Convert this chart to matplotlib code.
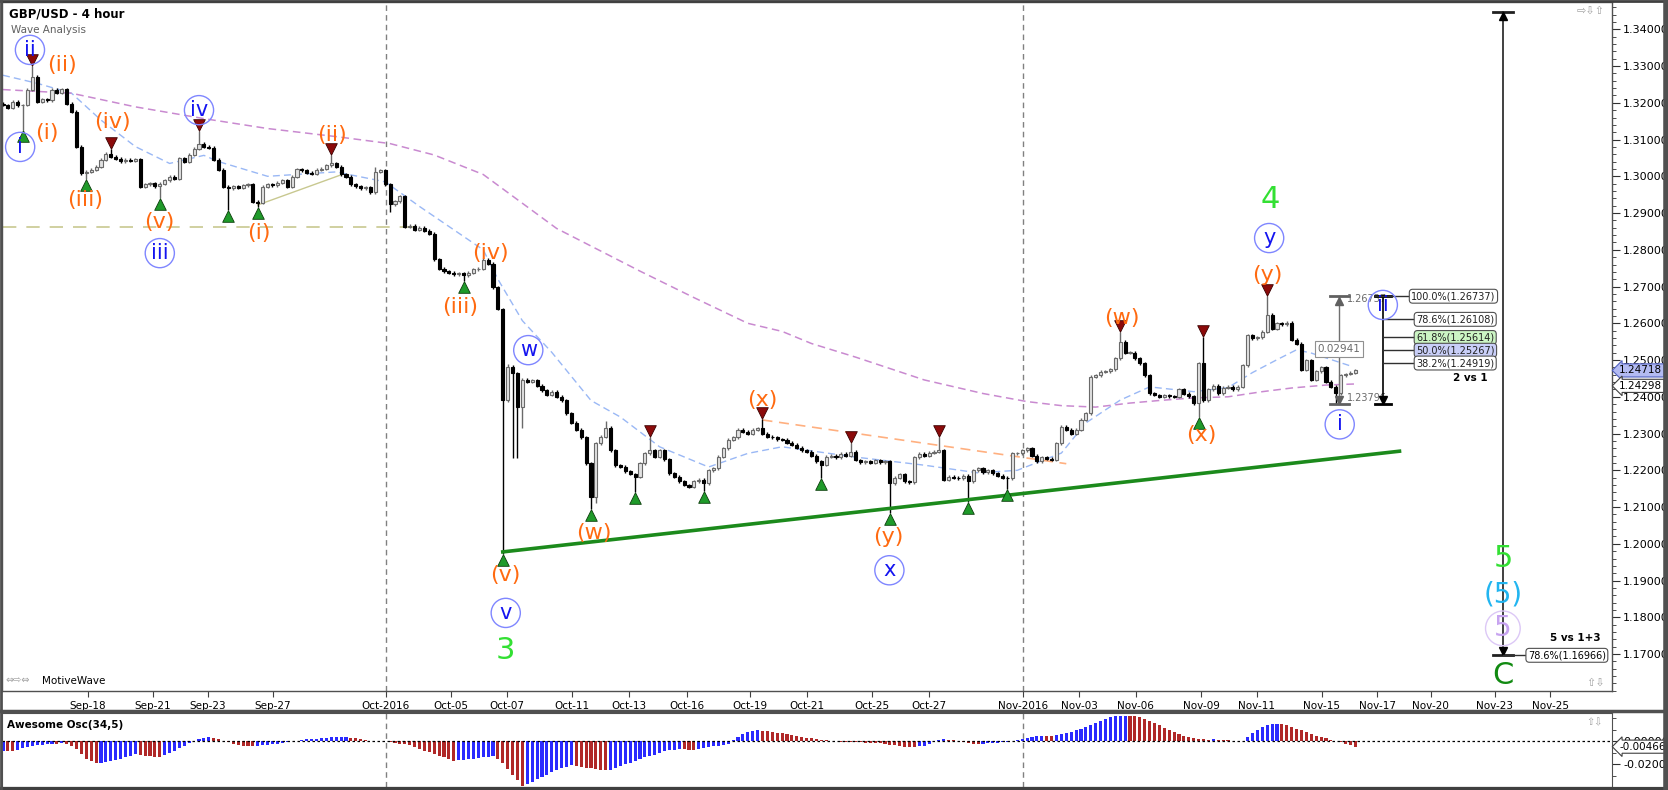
import matplotlib
matplotlib.use("Agg")
import matplotlib.pyplot as plt
from matplotlib.transforms import blended_transform_factory, offset_copy
from matplotlib.ticker import MultipleLocator, FixedLocator
from matplotlib.lines import Line2D

# ---- price data: 4h candles, values in pips above 1.0000 ----
closes = [
    3194, 3187, 3203, 3193, 3194, 3235, 3271, 3203, 3209, 3207,
    3235, 3228, 3237, 3198, 3176, 3081, 3008, 3013, 3018, 3026,
    3045, 3062, 3053, 3048, 3041, 3045, 3042, 3046, 2972, 2978,
    2981, 2973, 2980, 2989, 2999, 2994, 3049, 3040, 3059, 3075,
    3089, 3080, 3078, 3045, 3018, 2972, 2967, 2973, 2969, 2975,
    2978, 2931, 2928, 2972, 2978, 2975, 2983, 2989, 2971, 2999,
    3019, 3016, 3010, 3007, 3018, 3021, 3030, 3035, 3026, 3005,
    2999, 2978, 2973, 2967, 2970, 2957, 3012, 3016, 2978, 2924,
    2932, 2946, 2863, 2865, 2855, 2860, 2852, 2844, 2774, 2749,
    2742, 2738, 2734, 2736, 2731, 2738, 2747, 2749, 2773, 2762,
    2698, 2639, 2391, 2482, 2464, 2373, 2446, 2441, 2445, 2430,
    2418, 2405, 2414, 2400, 2391, 2355, 2330, 2310, 2290, 2219,
    2128, 2273, 2292, 2316, 2255, 2214, 2210, 2198, 2190, 2182,
    2219, 2246, 2255, 2237, 2255, 2230, 2192, 2183, 2170, 2160,
    2155, 2170, 2175, 2165, 2200, 2205, 2237, 2260, 2283, 2290,
    2310, 2305, 2300, 2310, 2315, 2300, 2292, 2290, 2285, 2283,
    2275, 2270, 2262, 2255, 2250, 2240, 2225, 2215, 2237, 2240,
    2235, 2245, 2240, 2250, 2228, 2222, 2225, 2220, 2228, 2222,
    2225, 2165, 2180, 2190, 2170, 2168, 2235, 2245, 2240, 2248,
    2250, 2255, 2174, 2183, 2180, 2178, 2185, 2170, 2200, 2205,
    2195, 2200, 2192, 2185, 2180, 2178, 2246, 2246, 2255, 2260,
    2240, 2225, 2235, 2232, 2228, 2273, 2319, 2310, 2300, 2310,
    2337, 2355, 2455, 2459, 2468, 2470, 2475, 2505, 2550, 2520,
    2520, 2505, 2491, 2459, 2410, 2405, 2400, 2405, 2402, 2400,
    2420, 2408, 2402, 2382, 2491, 2391, 2420, 2430, 2410, 2425,
    2428, 2420, 2428, 2486, 2568, 2559, 2562, 2577, 2623, 2585,
    2600, 2598, 2602, 2555, 2545, 2473, 2500, 2446, 2470, 2480,
    2441, 2428, 2410, 2459, 2462, 2466, 2472,
]
first_open = 3198
marked_highs = {6: 3299, 22: 3074, 40: 3123, 67: 3059, 76: 3026, 103: 2490,
                123: 2333, 132: 2290, 155: 2340, 173: 2275, 191: 2290,
                228: 2577, 245: 2564, 258: 2674}
marked_lows = {4: 3126, 17: 2992, 32: 2941, 46: 2908, 52: 2917, 79: 2903,
               94: 2715, 102: 1973, 104: 2233, 105: 2233, 106: 2314, 120: 2095,
               121: 2110, 129: 2140, 143: 2145, 167: 2180, 181: 2085, 197: 2115,
               205: 2150, 244: 2345, 272: 2380}
pivot_lows = [4, 17, 32, 46, 52, 94, 102, 120, 129, 143, 167, 181, 197, 205, 244]
pivot_highs = [6, 22, 40, 67, 132, 155, 173, 191, 228, 245, 258]

# Awesome oscillator (34,5), in pips
ao = [
    -80, -84, -86, -72, -62, -52, -42, -35, -30, -25, -20, -22, -18, -24,
    -40, -70, -110, -150, -175, -190, -185, -178, -170, -160, -150, -140, -125, -112,
    -118, -124, -130, -133, -135, -120, -100, -80, -60, -40, -15, 5, 20, 30, 36,
    30, 18, 5, -8, -20, -32, -40, -43, -45, -40, -35, -30, -26, -22, -15,
    -8, 0, 6, 12, 16, 20, 24, 28, 31, 34, 36, 38, 39, 32, 25, 16, 8, 2,
    0, 3, 1, -8, -15, -20, -25, -35, -50, -65, -80, -95, -110, -125, -140, -155, -170,
    -165, -160, -155, -150, -145, -140, -135, -130, -150, -190, -240, -290, -340, -385,
    -370, -350, -330, -310, -290, -270, -250, -235, -220, -210,
    -215, -222, -230, -236, -242, -248, -252,
    -245, -230, -215, -200, -185, -170, -155, -140, -125, -115,
    -100, -88, -78, -72, -68, -70, -72, -74, -68, -60, -52, -45, -38, -30, -20,
    10, 40, 65, 80, 90, 96, 92, 88, 82, 76, 70, 62, 55, 48, 40, 33, 26, 20, 14, 8, 3,
    0, -2, -4, -6, -8, -10, -12, -14, -16, -18, -22, -28, -34, -40, -46, -50, -52,
    -45, -38, -20, 5, 15, 20, 15, 8, 0, -8, -15, -20, -22, -20, -18, -15, -12, -10,
    -6, 5, 15, 22, 30, 36, 42, 48, 46, 45,
    52, 60, 70, 82, 95, 110, 125, 142, 160, 180, 198, 210, 218, 222, 224, 220, 218,
    210, 195, 178, 160, 140, 120, 100, 82, 66, 50, 38, 28, 22, 18, 15, 17, 14, 12,
    8, 5, 3, 4, 40, 70, 100, 125, 140, 148, 152, 150,
    140, 125, 110, 95, 80, 65, 50, 38, 25, 12, 0, -10, -22, -34, -46,
]
ao_last = -0.00466

# moving averages (bar, pips)
blue_ma_bars = [0, 7, 14, 20, 27, 34, 41, 44, 54, 68, 78, 85, 98, 101, 106, 112, 120,
                126, 134, 144, 152, 159, 174, 188, 199, 207, 216, 221, 228, 234, 243,
                250, 255, 260, 264, 267, 275]
blue_ma = [3275, 3253, 3226, 3153, 3081, 3035, 3057, 3040, 3000, 3012, 2985, 2918,
           2800, 2720, 2607, 2521, 2390, 2345, 2264, 2209, 2246, 2264, 2236, 2214,
           2193, 2200, 2247, 2329, 2391, 2427, 2414, 2425, 2466, 2501, 2528, 2519, 2484]
pink_ma_bars = [0, 14, 27, 41, 54, 68, 79, 88, 98, 113, 130, 141, 152, 159, 165, 174,
                188, 200, 209, 216, 223, 230, 236, 243, 250, 257, 263, 270, 276]
pink_ma = [3236, 3226, 3189, 3157, 3130, 3108, 3089, 3058, 3005, 2858, 2742, 2670,
           2600, 2578, 2545, 2508, 2446, 2409, 2387, 2376, 2372, 2383, 2390, 2397,
           2400, 2414, 2424, 2432, 2435]

trend_bars, trend_vals = [102, 285], [1978, 2252]
orange_line_bars, orange_line_vals = [155, 217], [2337, 2218]
olive_line_bars, olive_line_vals = [52, 69], [2922, 3004]
olive_level, olive_bars = 2862, [0, 84]

date_ticks = [17.3, 30.6, 41.8, 55.1, 78.1, 91.4, 102.8, 116.1, 127.7, 139.6, 152.4,
              164.1, 177.4, 188.9, 208.1, 219.6, 231.2, 244.5, 255.9, 269.1, 280.5,
              291.4, 304.4, 315.8]
date_labels = ["Sep-18", "Sep-21", "Sep-23", "Sep-27", "Oct-2016", "Oct-05", "Oct-07",
               "Oct-11", "Oct-13", "Oct-16", "Oct-19", "Oct-21", "Oct-25", "Oct-27",
               "Nov-2016", "Nov-03", "Nov-06", "Nov-09", "Nov-11", "Nov-15", "Nov-17",
               "Nov-20", "Nov-23", "Nov-25"]
month_lines = [78.1, 208.1]

orange_labels = [("(ii)", 12, 3303), ("(i)", 9, 3117), ("(iii)", 16.7, 2935),
                 ("(iv)", 22.3, 3148), ("(v)", 32, 2876), ("(i)", 52.2, 2846),
                 ("(ii)", 67.2, 3112), ("(iii)", 93.3, 2645), ("(iv)", 99.5, 2791),
                 ("(v)", 102.6, 1915), ("(w)", 120.6, 2030), ("(x)", 154.9, 2391),
                 ("(y)", 180.7, 2019), ("(w)", 228.4, 2614), ("(x)", 244.6, 2296),
                 ("(y)", 258.0, 2731)]
blue_labels = [("ii", 5.5, 3344), ("i", 3.5, 3080), ("iii", 32, 2791), ("iv", 40, 3180),
               ("w", 107.2, 2527), ("v", 102.6, 1812), ("x", 180.9, 1928),
               ("y", 258.4, 2832), ("i", 272.8, 2325)]
green_labels = [("3", 102.6, 1711), ("4", 258.6, 2936), ("5", 306.1, 1961)]

fib_levels = [1.26737, 1.26108, 1.25614, 1.25267, 1.24919]
fib_texts = ["100.0%(1.26737)", "78.6%(1.26108)", "61.8%(1.25614)",
             "50.0%(1.25267)", "38.2%(1.24919)"]
fib_fills = ["white", "white", "#ccf5c4", "#c9cff8", "white"]
wave_top, wave_bottom = 1.26737, 1.23796
ext_top, ext_bottom = 1.3448, 1.16966

last_price, other_price = 1.24718, 1.24298


def p(v):
    return 1 + v / 10000.0


W, H = 1668, 790


def rect(x0, y0, x1, y1):
    return [x0 / W, 1 - y1 / H, (x1 - x0) / W, (y1 - y0) / H]


fig = plt.figure(figsize=(W / 100, H / 100), dpi=100)
ax = fig.add_axes(rect(2, 2, 1612, 691))
ax2 = fig.add_axes(rect(2, 713, 1612, 787), sharex=ax)
xlim = (-0.204, 328.37)

# ---- candles ----
c = [p(v) for v in closes]
o = [p(first_open)] + c[:-1]
hi = [max(a, b) + 0.0004 for a, b in zip(o, c)]
lo = [min(a, b) - 0.0004 for a, b in zip(o, c)]
for k, v in marked_highs.items():
    hi[k] = p(v)
for k, v in marked_lows.items():
    lo[k] = p(v)
x = list(range(len(c)))
up = [i for i in x if c[i] >= o[i]]
dn = [i for i in x if c[i] < o[i]]

ax.vlines(up, [lo[i] for i in up], [hi[i] for i in up], color="#6a6a6a", lw=1, zorder=3)
ax.vlines(dn, [lo[i] for i in dn], [hi[i] for i in dn], color="black", lw=1, zorder=3)
ax.bar(up, [max(c[i] - o[i], 0.00012) for i in up], bottom=[o[i] for i in up],
       width=0.62, color="#e2e2e2", edgecolor="#6a6a6a", lw=0.8, zorder=4)
ax.bar(dn, [max(o[i] - c[i], 0.00012) for i in dn], bottom=[c[i] for i in dn],
       width=0.62, color="black", edgecolor="black", lw=0.8, zorder=4)

# ---- lines ----
ax.plot(blue_ma_bars, [p(v) for v in blue_ma], color="#9ab8f5", lw=1, ls=(0, (5, 3)), zorder=2)
ax.plot(pink_ma_bars, [p(v) for v in pink_ma], color="#c98ad0", lw=1.1, ls=(0, (5, 3)), zorder=2)
ax.plot(trend_bars, [p(v) for v in trend_vals], color="#1c8a1c", lw=2.6, zorder=5)
ax.plot(orange_line_bars, [p(v) for v in orange_line_vals], color="#ffb080", lw=1.2,
        ls=(0, (6, 4)), zorder=2)
ax.plot(olive_line_bars, [p(v) for v in olive_line_vals], color="#c8c890", lw=1, zorder=2)
ax.plot(olive_bars, [p(olive_level)] * 2, color="#c8c890", lw=1.2, ls=(0, (8, 6)), zorder=2)
for m in month_lines:
    ax.axvline(m, color="#808080", lw=1, ls=(0, (4, 3)), zorder=1)
    ax2.axvline(m, color="#808080", lw=1, ls=(0, (4, 3)), zorder=1)

# ---- pivot markers ----
down_off = offset_copy(ax.transData, fig=fig, y=-6, units="dots")
up_off = offset_copy(ax.transData, fig=fig, y=6, units="dots")
ax.scatter(pivot_lows, [lo[i] for i in pivot_lows], marker="^", s=70, color="#1f9a2a",
           edgecolor="#0b3d0b", lw=0.6, transform=down_off, zorder=6)
ax.scatter(pivot_highs, [hi[i] for i in pivot_highs], marker="v", s=70, color="#8b0a0a",
           edgecolor="#3a0000", lw=0.6, transform=up_off, zorder=6)

# ---- wave labels ----
for t, b, v in orange_labels:
    ax.text(b, p(v), t, color="#ff6a10", fontsize=16, ha="center", va="center", zorder=7)
for t, b, v in blue_labels:
    ax.text(b, p(v), t, color="#1414f0", fontsize=15, ha="center", va="center", zorder=7,
            bbox=dict(boxstyle="circle,pad=0.22", fc="none", ec="#7f86ff", lw=1))
for t, b, v in green_labels:
    ax.text(b, p(v), t, color="#33e033", fontsize=22, ha="center", va="center", zorder=7)
ax.text(306.1, p(1861), "(5)", color="#22b5f0", fontsize=20, ha="center", va="center", zorder=7)
ax.text(306.1, p(1770), "5", color="#c7a3f0", fontsize=20, ha="center", va="center", zorder=7,
        bbox=dict(boxstyle="circle,pad=0.12", fc="none", ec="#dcc8f6", lw=1))
ax.text(306.1, p(1643), "C", color="#118a11", fontsize=22, ha="center", va="center", zorder=7)

# ---- gray measuring tool ----
gx = 272.7
ax.plot([gx, gx], [wave_bottom, wave_top], color="#707070", lw=1, zorder=6)
ax.plot([gx - 1.9, gx + 1.9], [wave_top] * 2, color="#606060", lw=2, zorder=6)
ax.plot([gx - 1.9, gx + 1.9], [wave_bottom] * 2, color="#606060", lw=2, zorder=6)
ax.plot([gx], [wave_top - 0.0012], marker="^", color="#606060", ms=6, zorder=6)
ax.plot([gx], [wave_bottom + 0.0012], marker="v", color="#606060", ms=6, zorder=6)
ax.text(gx + 1.5, wave_top - 0.0008, "1.26737", color="#6a6a6a", fontsize=7,
        va="center", zorder=6)
ax.text(gx + 1.5, wave_bottom + 0.0017, "1.23796", color="#6a6a6a", fontsize=7,
        va="center", zorder=6)
ax.text(gx, 1.2530, "0.02941", color="#6a6a6a", fontsize=7.5, ha="center", va="center",
        zorder=6, bbox=dict(boxstyle="square,pad=0.25", fc="white", ec="#909090", lw=0.8))

# ---- fib retracement tool ----
fx = 281.6
ax.plot([fx, fx], [wave_bottom, wave_top], color="black", lw=1.2, zorder=6)
ax.plot([fx - 1.6, fx + 1.6], [wave_top] * 2, color="black", lw=2, zorder=6)
ax.plot([fx - 1.6, fx + 1.6], [wave_bottom] * 2, color="black", lw=2, zorder=6)
ax.plot([fx], [wave_bottom + 0.0012], marker="v", color="black", ms=6, zorder=6)
ax.text(fx, p(2650), "ii", color="#1414f0", fontsize=15, ha="center", va="center", zorder=7,
        bbox=dict(boxstyle="circle,pad=0.22", fc="none", ec="#7f86ff", lw=1))
for k, (lvl, txt, fc) in enumerate(zip(fib_levels, fib_texts, fib_fills)):
    left = 287.4 if k == 0 else 288.4
    ax.plot([fx - (1.6 if k == 0 else 0), left], [lvl, lvl], color="#303030", lw=1, zorder=6)
    ax.text(left, lvl, txt, fontsize=7, va="center", ha="left", color="#202020", zorder=7,
            bbox=dict(boxstyle="round,pad=0.2,rounding_size=0.35", fc=fc, ec="#505050", lw=0.8))
ax.text(303.0, 1.2451, "2 vs 1", fontsize=7.5, fontweight="bold", ha="right", va="center")

# ---- extension tool ----
ex = 306.1
ax.plot([ex, ex], [ext_bottom, ext_top], color="#202020", lw=1.2, zorder=6)
ax.plot([ex - 2, ex + 2], [ext_top] * 2, color="#202020", lw=2, zorder=6)
ax.plot([ex - 2, ex + 2], [ext_bottom] * 2, color="#202020", lw=2, zorder=6)
ax.plot([ex], [ext_top - 0.0012], marker="^", color="black", ms=6, zorder=6)
ax.plot([ex], [ext_bottom + 0.0012], marker="v", color="black", ms=6, zorder=6)
ax.plot([ex, 311.2], [ext_bottom] * 2, color="#303030", lw=1, zorder=6)
ax.text(311.2, ext_bottom, "78.6%(1.16966)", fontsize=7, va="center", ha="left", zorder=7,
        bbox=dict(boxstyle="round,pad=0.2,rounding_size=0.35", fc="white", ec="#505050", lw=0.8))
ax.text(326.0, 1.1744, "5 vs 1+3", fontsize=7.5, fontweight="bold", ha="right", va="center")

# ---- main axes styling ----
ax.set_xlim(*xlim)
ax.set_ylim(1.15995, 1.34743)
ax.yaxis.tick_right()
ax.yaxis.set_major_locator(FixedLocator([1.17 + 0.01 * k for k in range(18)]))
ax.yaxis.set_minor_locator(MultipleLocator(0.002))
ax.yaxis.set_major_formatter(lambda v, pos: f"{v:.5f}")
ax.tick_params(axis="y", which="major", length=6, labelsize=8, pad=2, color="#303030")
ax.tick_params(axis="y", which="minor", length=3, color="#303030")
ax.set_xticks(date_ticks)
ax.set_xticklabels(date_labels)
ax.tick_params(axis="x", length=4, labelsize=7.5, pad=3, color="#404040")
for s in ax.spines.values():
    s.set_color("#505050")
    s.set_linewidth(1)

tag_box = dict(boxstyle="larrow,pad=0.15", lw=0.8)
tr = blended_transform_factory(ax.transAxes, ax.transData)
ax.text(1.0045, last_price, f"{last_price:.5f}", transform=tr, fontsize=7.5, va="center",
        ha="left", zorder=8, clip_on=False, bbox=dict(tag_box, fc="#b3bbf2", ec="#5060c0"))
ax.text(1.0045, other_price, f"{other_price:.5f}", transform=tr, fontsize=7.5, va="center",
        ha="left", zorder=8, clip_on=False, bbox=dict(tag_box, fc="white", ec="#404040"))

# ---- oscillator ----
ao_cols = ["#2a2aff" if i == 0 or ao[i] >= ao[i - 1] else "#b02828" for i in range(len(ao))]
ax2.bar(range(len(ao)), [v / 10000.0 for v in ao], width=0.62, color=ao_cols, zorder=3)
ax2.axhline(0, color="black", lw=0.9, ls=(0, (2, 2)), zorder=4)
ax2.set_ylim(-0.0397, 0.0246)
ax2.yaxis.tick_right()
ax2.set_yticks([0.0, -0.02])
ax2.set_yticklabels(["0.00000", "-0.02000"])
ax2.yaxis.set_minor_locator(MultipleLocator(0.01))
ax2.tick_params(axis="y", which="major", length=6, labelsize=8, pad=2, color="#303030")
ax2.tick_params(axis="y", which="minor", length=3, color="#303030")
ax2.tick_params(axis="x", bottom=False, labelbottom=False)
for s in ax2.spines.values():
    s.set_color("#505050")
tr2 = blended_transform_factory(ax2.transAxes, ax2.transData)
ax2.text(1.0045, ao_last, f"{ao_last:.5f}", transform=tr2, fontsize=7.5, va="center",
         ha="left", zorder=8, clip_on=False, bbox=dict(tag_box, fc="white", ec="#404040"))

# ---- texts and frame ----
fig.text(9 / W, 1 - 14 / H, "GBP/USD - 4 hour", fontsize=8.5, fontweight="bold",
         va="center", ha="left")
fig.text(11 / W, 1 - 30 / H, "Wave Analysis", fontsize=7.5, color="#606060",
         va="center", ha="left")
fig.text(7 / W, 1 - 725 / H, "Awesome Osc(34,5)", fontsize=7.5, fontweight="bold",
         va="center", ha="left")
fig.text(5 / W, 1 - 681 / H, "\u21d4\u21e8\u21d4", fontsize=7, color="#a0a0a0",
         va="center", ha="left")
fig.text(42 / W, 1 - 681 / H, "MotiveWave", fontsize=7.5, va="center", ha="left")
fig.text(1605 / W, 1 - 11 / H, "\u21e8\u21e9\u21e7", fontsize=8, color="#a0a0a0",
         va="center", ha="right")
fig.text(1605 / W, 1 - 683 / H, "\u21e7\u21e9", fontsize=8, color="#a0a0a0",
         va="center", ha="right")
fig.text(1603 / W, 1 - 722 / H, "\u21e7\u21e9", fontsize=7, color="#a0a0a0",
         va="center", ha="right")

fig.add_artist(Line2D([0, 1], [1 - 711 / H] * 2, color="#505050", lw=2.5))
fig.add_artist(Line2D([0, 1], [1 - 1 / H] * 2, color="#404040", lw=2))
fig.add_artist(Line2D([0, 1], [1 / H] * 2, color="#404040", lw=3))
fig.add_artist(Line2D([1 - 2 / W] * 2, [0, 1], color="#505050", lw=4))
fig.add_artist(Line2D([1 / W] * 2, [0, 1], color="#505050", lw=2))

fig.savefig("out.png", dpi=100)
